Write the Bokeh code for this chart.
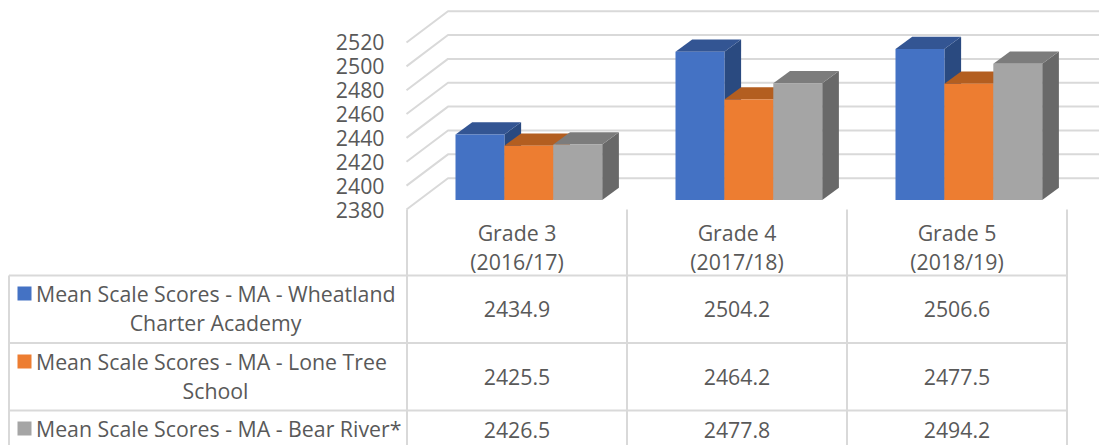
from bokeh.embed import file_html
from bokeh.resources import INLINE
from bokeh.plotting import figure
from bokeh.models import Range1d, FixedTicker, LinearAxis
from bokeh.core.properties import value

categories = ["Grade 3\n(2016/17)", "Grade 4\n(2017/18)", "Grade 5\n(2018/19)"]
wheatland = [2434.9, 2504.2, 2506.6]
lone_tree = [2425.5, 2464.2, 2477.5]
bear_river = [2426.5, 2477.8, 2494.2]
series_labels = [
    ["Mean Scale Scores - MA - Wheatland", "Charter Academy"],
    ["Mean Scale Scores - MA - Lone Tree", "School"],
    ["Mean Scale Scores - MA - Bear River*"],
]
y_ticks = [2380, 2400, 2420, 2440, 2460, 2480, 2500, 2520]

FONT = "Open Sans"
SIZE = "21.3px"
TEXT = "#595959"
GRID = "#d9d9d9"
series = [wheatland, lone_tree, bear_river]
front = ["#4472c4", "#ed7d31", "#a5a5a5"]
top_c = ["#335593", "#b35e20", "#7c7c7c"]
side_c = ["#2a4a80", "#b35e20", "#696969"]

U = 1.193  # px per score unit
WALL_X, BACK_X, WALL_DY = 406.0, 447.5, 31.3 / U
LIFT = 9.5 / U
DEPTH_X, DEPTH_Y = 16.7, 12.3 / U
BAR_X0, BAR_W, CAT_STEP = 455.0, 48.9, 220.0
COLS = [406.5, 626.5, 846.5, 1066.5]
ZERO_PX = 209
Y0 = y_ticks[0]
OX, OY = 0, 0
W, H = 1099, 445

p = figure(width=W, height=H, output_backend="svg", toolbar_location=None,
           x_range=Range1d(OX, OX + W),
           y_range=Range1d(Y0 - (OY + H - ZERO_PX) / U, Y0 + (ZERO_PX - OY) / U),
           min_border_left=0, min_border_right=0, min_border_top=0, min_border_bottom=0,
           outline_line_color=None, background_fill_color=None, border_fill_color=None,
           x_axis_location=None, y_axis_location=None)
p.xgrid.visible = False
p.ygrid.visible = False
p.extra_y_ranges = {"px": Range1d(OY + H, OY)}

ax = LinearAxis(fixed_location=398)
ax.ticker = FixedTicker(ticks=y_ticks)
ax.axis_line_color = None
ax.major_tick_line_color = None
ax.minor_tick_line_color = None
ax.major_label_standoff = 8
ax.major_label_text_font = FONT
ax.major_label_text_font_size = SIZE
ax.major_label_text_color = TEXT
p.add_layout(ax, "left")

for t in y_ticks:
    p.line([WALL_X, BACK_X, OX + W], [t, t + WALL_DY, t + WALL_DY], line_color=GRID, line_width=2)

for i in range(len(categories)):
    for j, vals in enumerate(series):
        x0 = BAR_X0 + CAT_STEP * i + BAR_W * j
        x1 = x0 + BAR_W
        b = Y0 + LIFT
        t = vals[i] + LIFT
        p.patch([x1, x1 + DEPTH_X, x1 + DEPTH_X, x1], [b, b + DEPTH_Y, t + DEPTH_Y, t], fill_color=side_c[j], line_color=None)
        p.patch([x0, x0 + DEPTH_X, x1 + DEPTH_X, x1], [t, t + DEPTH_Y, t + DEPTH_Y, t], fill_color=top_c[j], line_color=None)
        p.quad(left=x0, right=x1, bottom=b, top=t, fill_color=front[j], line_color=None)

# data table below the chart, in page-pixel y
ROWS = [275, 342.5, 410]
END = OY + H
p.segment(COLS, [ZERO_PX] * 4, COLS, [END] * 4, line_color=GRID, line_width=2, y_range_name="px")
p.segment([8.5] * 3, ROWS, [COLS[-1]] * 3, ROWS, line_color=GRID, line_width=2, y_range_name="px")
p.segment([8.5], [ROWS[0]], [8.5], [END], line_color=GRID, line_width=2, y_range_name="px")


def txt(x, y, s, align="center"):
    p.text([x], [y], text=[s], text_font=value(FONT), text_font_size=value(SIZE), text_color=TEXT,
           text_align=align, text_baseline="middle", y_range_name="px")


for i, c in enumerate(categories):
    cx = (COLS[i] + COLS[i + 1]) / 2
    for k, line in enumerate(c.split("\n")):
        txt(cx, 232 + 29 * k, line)
    for j, vals in enumerate(series):
        txt(cx, [308, 376, 429][j], f"{vals[i]:.1f}")

LEG_Y = [293, 361, 428]
for j, lines in enumerate(series_labels):
    p.quad(left=17, right=31, top=LEG_Y[j] - 7, bottom=LEG_Y[j] + 7, fill_color=front[j], line_color=None, y_range_name="px")
    txt(35.5, LEG_Y[j], lines[0], "left")
    if len(lines) > 1:
        txt(215, LEG_Y[j] + 29, lines[1])

open("out.html", "w").write(file_html(p, INLINE))
